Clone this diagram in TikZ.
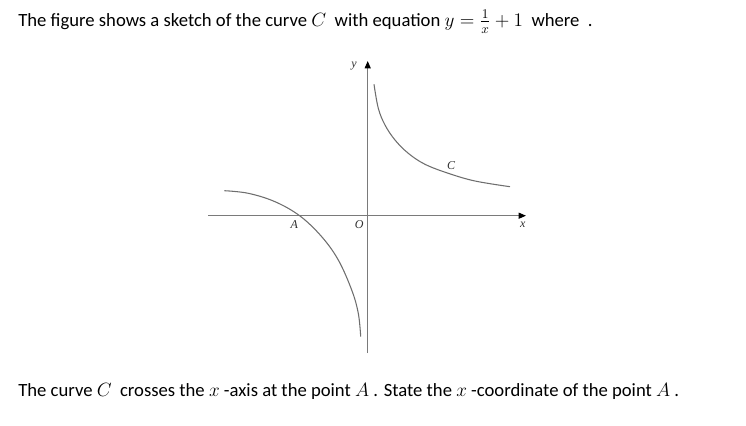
\documentclass[tikz,border=0pt]{standalone}
\usepackage{fontspec}
\setmainfont{Carlito}
\newfontfamily\figfont{Liberation Serif}
\usetikzlibrary{arrows.meta}
\definecolor{curvegray}{HTML}{6E6E6E}
\definecolor{axisgray}{HTML}{7A7A7A}
\definecolor{labelink}{HTML}{303030}
\tikzset{>={Triangle[length=5.5pt,width=4.5pt,color=black]},
  axis/.style={->,draw=axisgray,line width=.9pt},
  curve/.style={draw=curvegray,line width=.8pt},
  axislabel/.style={font=\figfont\itshape\fontsize{9}{11}\selectfont,text=labelink,inner sep=0pt},
  prose/.style={font=\fontsize{14}{17}\selectfont,anchor=base west,inner sep=0pt}}
\begin{document}
\begin{tikzpicture}[x=.75pt,y=-.75pt]
\path[use as bounding box] (0,0) rectangle (746,425);
% question text
\node[prose] (intro) at (18,26.5) {The figure shows a sketch of the curve $C$~ with equation $y=\frac{1}{x}+1$~ where~ .};
\node[prose] (task) at (18,396.5) {The curve $C$~ crosses the $x$~-axis at the point $A$ . State the $x$~-coordinate of the point $A$ .};
% axes
\coordinate (xstart) at (208,215.7);
\coordinate (xend) at (526,215.7);
\coordinate (ystart) at (367.7,353);
\coordinate (yend) at (367.7,61);
\draw[axis] (xstart)--(xend);
\draw[axis] (ystart)--(yend);
% the two branches of C
\draw[curve] plot[smooth,tension=.6] coordinates {(374,84.3) (378.3,108.3) (385,125) (395,140) (408.3,153.3) (425,164.3) (448.3,173.3) (475,181) (510,186.7)};
\draw[curve] plot[smooth,tension=.6] coordinates {(224.3,190.7) (248.3,193.3) (275,201.7) (300,216) (321.7,236.7) (338.3,260) (351.7,290) (358.3,313.3) (360.7,336.7)};
% labels
\node[axislabel] (ylab) at (354,66) {y};
\node[axislabel] (xlab) at (522.7,224.3) {x};
\node[axislabel] (olab) at (359.3,224.3) {O};
\node[axislabel] (alab) at (294.3,225) {A};
\node[axislabel] (clab) at (451,166) {C};
\end{tikzpicture}
\end{document}
